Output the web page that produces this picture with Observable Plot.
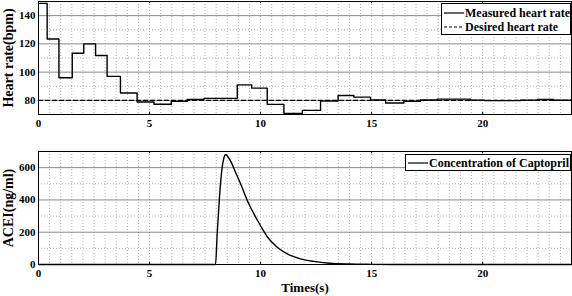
<!DOCTYPE html>
<html>
<head>
<meta charset="utf-8">
<script src="https://cdn.jsdelivr.net/npm/d3@7"></script>
<script src="https://cdn.jsdelivr.net/npm/@observablehq/plot@0.6"></script>
<style>
  html, body { margin: 0; padding: 0; background: #fff; }
  #chart { position: relative; width: 572px; height: 296px; overflow: hidden; font-family: "Liberation Serif", "Times New Roman", serif; font-weight: bold; }
  #chart > svg { position: absolute; left: 0; }
  .legend { position: absolute; background: #fff; border: 1px solid #000; font-size: 12px; font-weight: bold; color: #000; box-sizing: border-box; }
  .legend .row { position: absolute; left: 2px; display: flex; align-items: center; white-space: nowrap; line-height: 12px; }
  .legend svg { margin-right: 1px; }
</style>
</head>
<body>
<div id="chart"></div>
<script>
// ---------- data ----------
const xTicks = [0, 5, 10, 15, 20];
const hrTicks = [80, 100, 120, 140];
const hrMinorTicks = [90, 110, 130];
const aceTicks = [0, 200, 400, 600];
const aceMinorTicks = [100, 300, 500];

const hrTime  = [0, 0.39, 0.92, 1.52, 2.04, 2.57, 3.09, 3.69, 4.44, 5.2, 5.98, 6.7, 7.45, 8.95, 9.6, 10.3, 11.05, 11.88, 12.7, 13.49, 14.2, 14.95, 15.63, 16.45, 17.2, 17.96, 19.46, 20.1, 21.7, 22.46, 23.2, 24];
const hrValue = [148.7, 123.5, 96, 113.4, 120, 111.8, 97, 85.2, 78.8, 77.3, 79.3, 80.7, 81.4, 91, 88.7, 77.2, 70.8, 72.9, 79.5, 83.5, 82.3, 80.3, 78.1, 79.3, 80.3, 80.9, 80.2, 79.8, 80.2, 80.7, 80.1, 80.1];

const desiredTime  = [0, 24];
const desiredValue = [80, 80];

const cTime  = [0, 7.97, 8.05, 8.15, 8.25, 8.33, 8.42, 8.5, 8.65, 8.87, 9.1, 9.4, 9.7, 10.0, 10.3, 10.75, 11.2, 11.8, 12.4, 13.1, 14, 15, 16, 24];
const cValue = [0, 0, 200, 420, 580, 650, 680, 672, 640, 572, 500, 397, 314, 240, 172, 107, 66, 35, 19, 8, 3, 1, 0, 0];

const xDomain = [0, 24];
const hrDomain = [70, 150];
const aceDomain = [0, 700];

// minor vertical grid every 0.5 s
const xMinor = d3.range(0.5, 24, 0.5);

// ---------- build ----------
const hrData = hrTime.map((t, i) => ({t, v: hrValue[i]}));
const desData = desiredTime.map((t, i) => ({t, v: desiredValue[i]}));
const cData = cTime.map((t, i) => ({t, v: cValue[i]}));

const baseStyle = {fontFamily: "'Liberation Serif', 'Times New Roman', serif", fontSize: "11px", fontWeight: "bold", background: "#fff", color: "#000", overflow: "visible"};

function innerTicks(ticks, yDomain) {
  const span = yDomain[1] - yDomain[0];
  const d = span * 0.02;
  const t = ticks.filter(v => v > xDomain[0] && v < xDomain[1]);
  return [
    Plot.ruleX(t, {y1: yDomain[0], y2: yDomain[0] + d, stroke: "#000"}),
    Plot.ruleX(t, {y1: yDomain[1] - d, y2: yDomain[1], stroke: "#000"})
  ];
}

const topPlot = Plot.plot({
  width: 572, height: 128,
  marginLeft: 38, marginRight: 1, marginTop: 1, marginBottom: 14,
  style: baseStyle,
  x: {domain: xDomain, axis: null},
  y: {domain: hrDomain, axis: null},
  marks: [
    Plot.gridX(xMinor, {stroke: "#b5b5b5", strokeOpacity: 1, strokeDasharray: "1,2"}),
    Plot.gridY(hrMinorTicks, {stroke: "#b5b5b5", strokeOpacity: 1, strokeDasharray: "1,2"}),
    Plot.gridY(hrTicks, {stroke: "#8a8a8a", strokeOpacity: 1, strokeWidth: 1}),
    ...innerTicks(xTicks, hrDomain),
    Plot.axisX({ticks: xTicks, tickSize: 0, tickPadding: 5, label: null, tickFormat: d => String(d), fontSize: 11, fontWeight: "bold"}),
    Plot.axisY({ticks: hrTicks, tickSize: 0, tickPadding: 3, label: null, fontSize: 11, fontWeight: "bold"}),
    Plot.line(desData, {x: "t", y: "v", stroke: "#000", strokeWidth: 1.4, strokeDasharray: "4,3"}),
    Plot.line(hrData, {x: "t", y: "v", stroke: "#000", strokeWidth: 1.4, curve: "step-after"}),
    Plot.frame({stroke: "#000", strokeWidth: 1}),
    Plot.text(["Heart rate(bpm)"], {text: d => d, frameAnchor: "left", textAnchor: "middle", lineAnchor: "middle", rotate: -90, dx: -30, fontSize: 14, fontWeight: "bold"})
  ]
});
topPlot.style.top = "0px";

const bottomPlot = Plot.plot({
  width: 572, height: 168,
  marginLeft: 38, marginRight: 1, marginTop: 23, marginBottom: 32,
  style: baseStyle,
  x: {domain: xDomain, axis: null},
  y: {domain: aceDomain, axis: null},
  marks: [
    Plot.gridX(xMinor, {stroke: "#b5b5b5", strokeOpacity: 1, strokeDasharray: "1,2"}),
    Plot.gridY(aceMinorTicks, {stroke: "#b5b5b5", strokeOpacity: 1, strokeDasharray: "1,2"}),
    Plot.gridY(aceTicks.filter(v => v > 0), {stroke: "#8a8a8a", strokeOpacity: 1, strokeWidth: 1}),
    ...innerTicks(xTicks, aceDomain),
    Plot.axisX({ticks: xTicks, tickSize: 0, tickPadding: 5, label: null, tickFormat: d => String(d), fontSize: 11, fontWeight: "bold"}),
    Plot.axisY({ticks: aceTicks, tickSize: 0, tickPadding: 3, label: null, fontSize: 11, fontWeight: "bold"}),
    Plot.line(cData, {x: "t", y: "v", stroke: "#000", strokeWidth: 1.4, curve: "monotone-x"}),
    Plot.frame({stroke: "#000", strokeWidth: 1}),
    Plot.text(["ACEI(ng/ml)"], {text: d => d, frameAnchor: "left", textAnchor: "middle", lineAnchor: "middle", rotate: -90, dx: -30, fontSize: 14, fontWeight: "bold"}),
    Plot.text(["Times(s)"], {text: d => d, frameAnchor: "bottom", textAnchor: "middle", lineAnchor: "middle", dy: 23, fontSize: 13, fontWeight: "bold"})
  ]
});
bottomPlot.style.top = "128px";

const chart = document.getElementById("chart");
chart.appendChild(topPlot);
chart.appendChild(bottomPlot);

function sample(dash) {
  return `<svg width="20" height="6"><line x1="0" y1="3" x2="20" y2="3" stroke="#000" stroke-width="1.2" ${dash ? 'stroke-dasharray="3,2"' : ''}/></svg>`;
}

const legendTop = document.createElement("div");
legendTop.className = "legend";
Object.assign(legendTop.style, {left: "441px", top: "3px", width: "130px", height: "32px"});
legendTop.innerHTML = `
  <div class="row" style="top:3px">${sample(false)}<span>Measured heart rate</span></div>
  <div class="row" style="top:17px">${sample(true)}<span>Desired heart rate</span></div>`;
chart.appendChild(legendTop);

const legendBot = document.createElement("div");
legendBot.className = "legend";
Object.assign(legendBot.style, {left: "405px", top: "154px", width: "166px", height: "17px"});
legendBot.innerHTML = `<div class="row" style="top:2px">${sample(false)}<span>Concentration of Captopril</span></div>`;
chart.appendChild(legendBot);
</script>
</body>
</html>
